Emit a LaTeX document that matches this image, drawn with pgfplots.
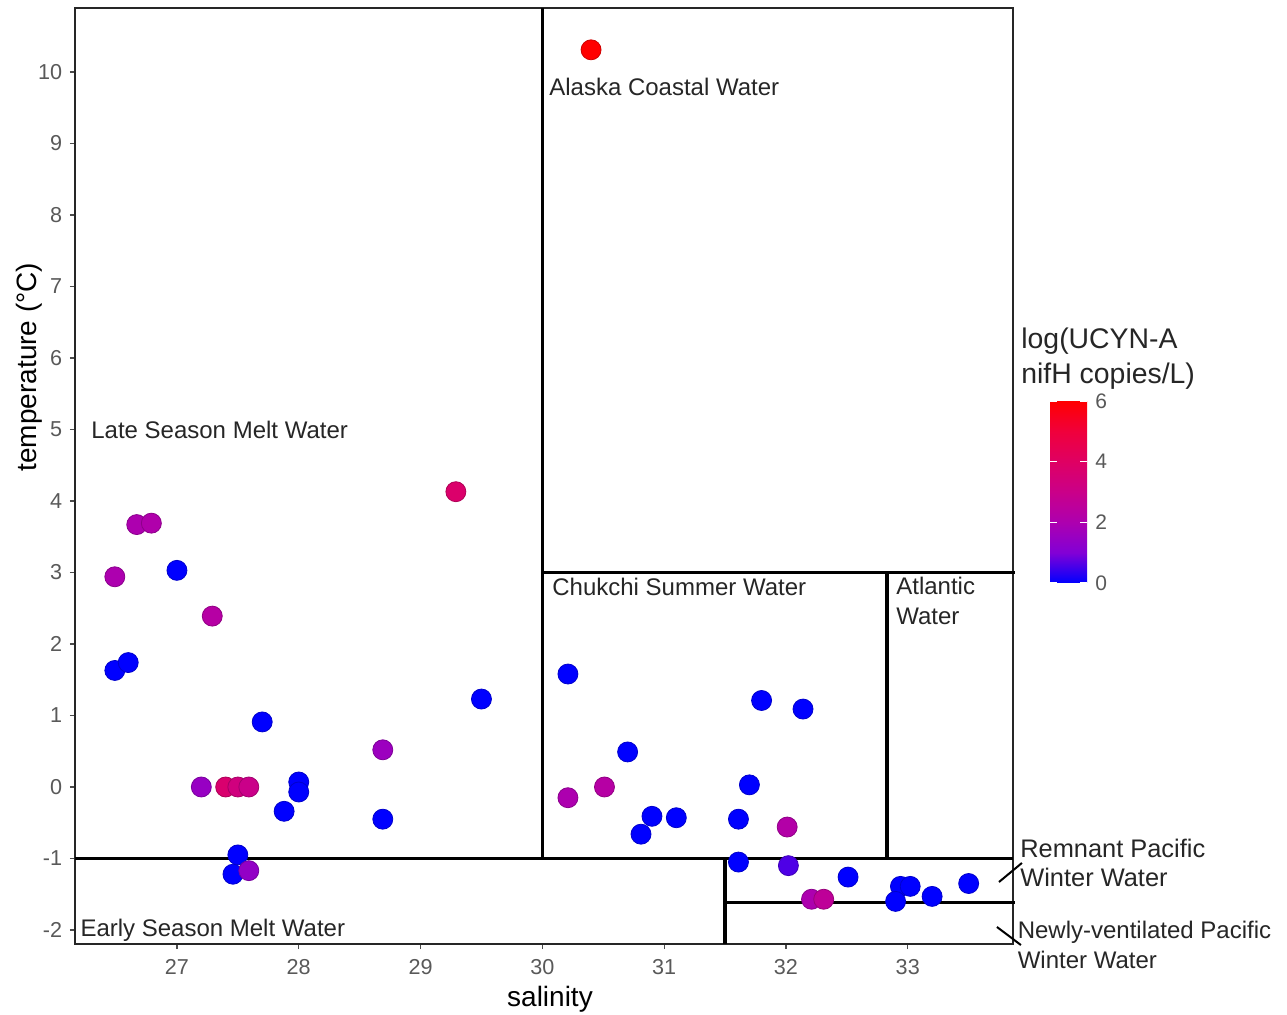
\documentclass[border=0pt]{standalone}
\usepackage{fontspec}
\setmainfont{Liberation Sans}
\usepackage{pgfplots}
\usepackage{pgfplotstable}
\pgfplotsset{compat=1.18}

% salinity, temperature, log(UCYN-A nifH copies/L)
\pgfplotstableread{
sal temp lg
30.40 10.31 6.0
29.29 4.13 3.8
26.67 3.67 2.0
26.79 3.69 2.1
26.49 2.94 2.0
27.00 3.03 0
27.29 2.39 2.3
26.49 1.63 0
26.60 1.74 0
27.70 0.91 0
29.50 1.23 0
28.69 0.52 1.6
27.20 0.00 1.5
27.40 0.00 3.7
27.50 0.00 3.3
27.59 0.00 3.0
28.00 0.07 0
28.00 -0.07 0
27.88 -0.34 0
28.69 -0.45 0
27.50 -0.95 0
27.46 -1.22 0
27.59 -1.17 1.4
30.21 1.58 0
31.80 1.21 0
32.14 1.09 0
30.70 0.49 0
30.21 -0.15 2.0
30.51 0.00 2.3
31.70 0.03 0
30.90 -0.41 0
31.10 -0.43 0
30.81 -0.66 0
31.61 -0.45 0
32.01 -0.56 2.2
31.61 -1.05 0
32.02 -1.10 0.6
32.51 -1.26 0
32.21 -1.57 2.0
32.31 -1.57 2.6
32.94 -1.39 0
33.02 -1.39 0
32.90 -1.60 0
33.20 -1.53 0
33.50 -1.35 0
}\samples

\begin{document}
\begin{tikzpicture}
\path[use as bounding box] (-37.5pt,-35pt) rectangle (606pt,472pt);
\begin{axis}[
  at={(0pt,0pt)}, anchor=south west,
  scale only axis, width=469pt, height=468pt,
  xmin=26.163, xmax=33.864, ymin=-2.196, ymax=10.895,
  xtick={27,...,33}, ytick={-2,...,10},
  xtick pos=left, ytick pos=left,
  tick align=outside, major tick length=2.5pt,
  major tick style={black!70, line width=0.6pt},
  axis line style={black!85, line width=0.8pt},
  /pgf/number format/assume math mode=true,
  xticklabel style={font=\fontsize{10.8}{12}\selectfont, text=black!65, anchor=base, inner sep=0pt, yshift=-12.9pt},
  yticklabel style={font=\fontsize{10.8}{12}\selectfont, text=black!65, anchor=east, inner sep=0pt, xshift=-3.7pt},
  xlabel={salinity}, ylabel={temperature (°C)},
  xlabel style={font=\fontsize{14}{16}\selectfont, at={(axis description cs:0.5064,0)}, anchor=base, yshift=-31pt},
  ylabel style={font=\fontsize{14}{16}\selectfont, at={(axis description cs:0,0.6164)}, anchor=base, yshift=19pt},
  clip=false,
  colormap={ucyn}{rgb255(0)=(0,0,255) rgb255(1)=(130,0,214) rgb255(2)=(173,0,175) rgb255(3)=(202,0,137) rgb255(4)=(223,0,99) rgb255(5)=(240,0,60) rgb255(6)=(255,0,0)},
  point meta min=0, point meta max=6,
  colorbar,
  colorbar/width=18.5pt,
  colorbar style={
    at={(parent axis.south east)}, anchor=south west,
    xshift=10pt, yshift=180.5pt,
    scale only axis, width=18.5pt, height=91pt,
    ytick={0,2,4,6},
    axis line style={draw=none},
    axis on top,
    ytick pos=both, yticklabel pos=right,
    tick align=inside, major tick length=3.5pt,
    major tick style={white, line width=0.8pt},
    /pgf/number format/assume math mode=true,
    yticklabel style={font=\fontsize{10.5}{12}\selectfont, text=black!65, anchor=west, inner sep=0pt, xshift=4pt},
  },
]
\addplot[scatter, only marks, mark=*, mark size=5pt, scatter src=explicit]
  table[x=sal, y=temp, meta=lg] {\samples};

% water mass boundaries
\draw[line width=1.6pt] (axis cs:30,-1) -- (axis cs:30,10.895);
\draw[line width=1.6pt] (axis cs:30,3) -- (axis cs:33.88,3);
\draw[line width=1.6pt] (axis cs:32.83,-1) -- (axis cs:32.83,3);
\draw[line width=1.6pt] (axis cs:26.163,-1) -- (axis cs:33.864,-1);
\draw[line width=1.6pt] (axis cs:31.5,-1) -- (axis cs:31.5,-2.196);
\draw[line width=1.6pt] (axis cs:31.5,-1.61) -- (axis cs:33.88,-1.61);
\draw[line width=1pt] (axis cs:33.749,-1.329) -- (axis cs:33.937,-1.063);
\draw[line width=1pt] (axis cs:33.732,-1.958) -- (axis cs:33.929,-2.210);

\tikzset{lab/.style={anchor=base west, inner sep=0pt, font=\fontsize{12}{14}\selectfont, text=black!85}}
\node[lab] at (axis cs:30.054,9.67) {Alaska Coastal Water};
\node[lab] at (axis cs:26.294,4.874) {Late Season Melt Water};
\node[lab] at (axis cs:30.079,2.678) {Chukchi Summer Water};
\node[lab] at (axis cs:32.903,2.692) {Atlantic};
\node[lab] at (axis cs:32.903,2.273) {Water};
\node[lab] at (axis cs:26.205,-2.098) {Early Season Melt Water};
\node[lab, font=\fontsize{12.7}{14}\selectfont] at (axis cs:33.921,-0.983) {Remnant Pacific};
\node[lab, font=\fontsize{12.7}{14}\selectfont] at (axis cs:33.921,-1.394) {Winter Water};
\node[lab] at (axis cs:33.90,-2.116) {Newly-ventilated Pacific};
\node[lab] at (axis cs:33.90,-2.536) {Winter Water};
\node[lab, font=\fontsize{14.2}{16}\selectfont] at (rel axis cs:1.0085,0.6357) {log(UCYN-A};
\node[lab, font=\fontsize{14.2}{16}\selectfont] at (rel axis cs:1.0085,0.5983) {nifH copies/L)};
\end{axis}
\end{tikzpicture}
\end{document}
